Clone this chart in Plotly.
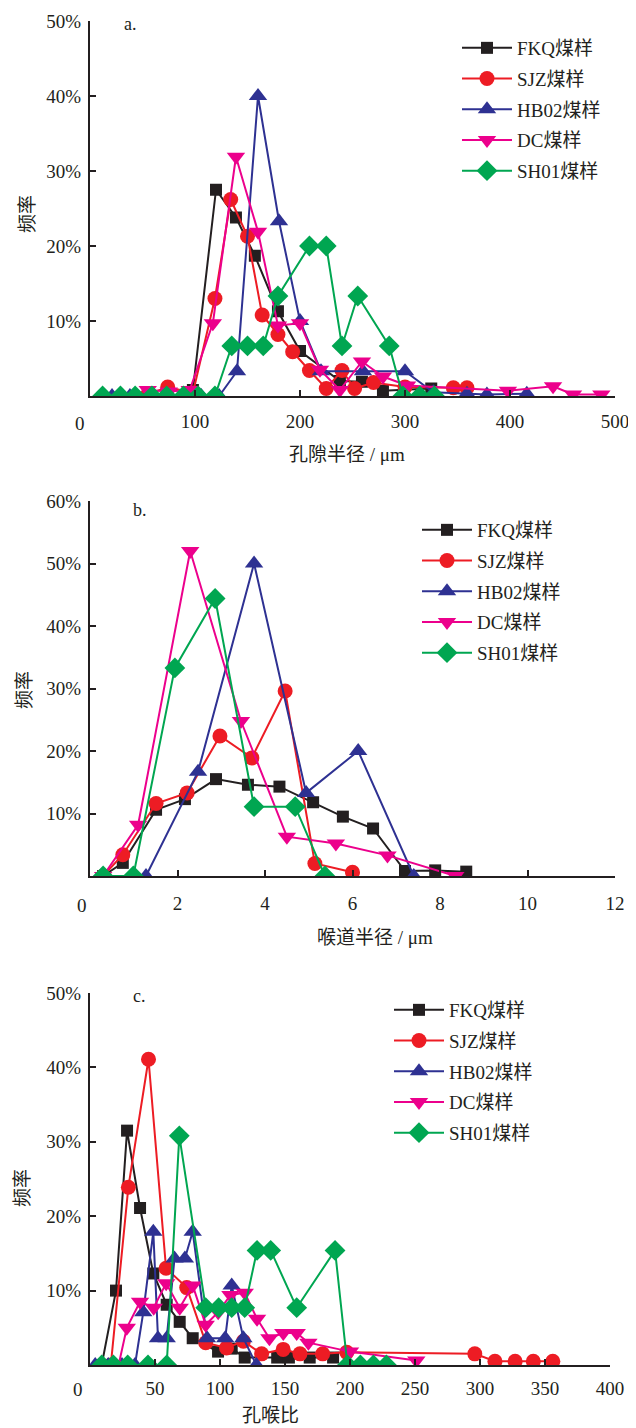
import plotly.graph_objects as go

# ---------------- data ----------------
names = ["FKQ煤样", "SJZ煤样", "HB02煤样", "DC煤样", "SH01煤样"]
colors = ["#231f20", "#ed1c24", "#2e3192", "#ec008c", "#00a651"]
symbols = ["square", "circle", "triangle-up", "triangle-down", "diamond"]
msizes = [12, 15, 16, 16, 16]

# panel a: pore radius (um) vs frequency (%)
FKQ_a_x = [98, 120, 139, 157, 179, 200, 238, 259, 279, 325]
FKQ_a_y = [0.8, 27.5, 23.8, 18.7, 11.3, 6.0, 2.0, 1.9, 0.7, 1.0]
SJZ_a_x = [55, 74, 98, 119, 134, 150, 164, 179, 193, 209, 225, 240, 252, 270, 300, 346, 359]
SJZ_a_y = [0.2, 1.2, 0.4, 13.0, 26.2, 21.3, 10.8, 8.2, 5.9, 3.4, 1.0, 3.4, 1.0, 1.8, 1.2, 1.1, 1.1]
HB02_a_x = [21, 38, 55, 72, 89, 106, 123, 140, 160, 180, 200, 220, 260, 300, 327, 359, 378, 416]
HB02_a_y = [0, 0, 0, 0, 0, 0, 0, 3.3, 40.0, 23.3, 10.0, 3.3, 3.3, 3.3, 0.5, 0.3, 0.2, 0.3]
DC_a_x = [55, 75, 95, 117, 139, 160, 179, 200, 219, 238, 259, 279, 302, 398, 441, 460, 487]
DC_a_y = [0.8, 0.6, 0.8, 9.7, 31.9, 21.9, 9.4, 9.7, 3.5, 0.8, 4.6, 2.6, 1.4, 0.7, 1.3, 0.2, 0.2]
SH01_a_x = [12, 29, 43, 59, 73, 89, 103, 119, 135, 150, 165, 179, 209, 225, 240, 255, 285, 298, 314, 328]
SH01_a_y = [0, 0, 0, 0, 0, 0, 0, 0, 6.67, 6.67, 6.67, 13.33, 20.0, 20.0, 6.67, 13.33, 6.67, 0, 0, 0]

# panel b: throat radius (um) vs frequency (%)
FKQ_b_x = [0.3, 0.75, 1.51, 2.17, 2.88, 3.61, 4.33, 5.10, 5.78, 6.47, 7.2, 7.89, 8.6]
FKQ_b_y = [0, 2.1, 10.6, 12.3, 15.5, 14.6, 14.3, 11.8, 9.5, 7.6, 0.8, 0.9, 0.7]
SJZ_b_x = [0.3, 0.75, 1.51, 2.22, 2.97, 3.70, 4.46, 5.14, 6.0]
SJZ_b_y = [0, 3.4, 11.6, 13.3, 22.4, 18.9, 29.6, 2.0, 0.6]
HB02_b_x = [1.28, 2.47, 3.75, 4.94, 6.13, 7.4]
HB02_b_y = [0, 16.7, 50.0, 13.3, 20.0, 0]
DC_b_x = [0.3, 1.1, 2.29, 3.45, 4.5, 5.62, 6.8, 8.35]
DC_b_y = [0, 8.2, 52.0, 24.8, 6.3, 5.2, 3.3, 0.0]
SH01_b_x = [0.3, 0.99, 1.94, 2.86, 3.75, 4.69, 5.37]
SH01_b_y = [0, 0, 33.3, 44.4, 11.1, 11.1, 0]

# panel c: pore-throat ratio vs frequency (%)
FKQ_c_x = [9, 20, 28.5, 38.5, 48.7, 59, 69, 79, 98.5, 109, 119, 144, 153, 169, 187]
FKQ_c_y = [0, 10.0, 31.5, 21.1, 12.3, 8.1, 5.8, 3.6, 1.8, 2.2, 1.0, 1.0, 1.0, 1.0, 1.0]
SJZ_c_x = [16, 29.5, 45, 58.5, 74.4, 89, 105, 118, 132, 148.6, 161.5, 179, 197.5, 296, 311.5, 327, 341, 356]
SJZ_c_y = [0, 23.9, 41.1, 13.0, 10.4, 3.0, 2.3, 3.2, 1.5, 2.1, 1.5, 1.5, 1.7, 1.5, 0.5, 0.5, 0.5, 0.5]
HB02_c_x = [4, 14, 24.6, 34.6, 41, 48.7, 52.3, 59, 65, 73, 79, 90, 104, 109, 118, 128]
HB02_c_y = [0, 0, 0, 0, 7.1, 17.9, 3.6, 3.6, 14.3, 14.3, 17.9, 3.6, 3.6, 10.7, 3.6, 0]
DC_c_x = [22, 28.3, 38.5, 49, 58.6, 69, 79, 89, 98.6, 108, 119, 128.5, 138, 148.7, 159, 168, 200, 251]
DC_c_y = [0, 5.0, 8.5, 7.7, 11.0, 7.7, 10.7, 5.4, 7.1, 9.4, 9.7, 6.2, 3.6, 4.3, 4.3, 3.0, 1.8, 0.6]
SH01_c_x = [9, 18, 29, 44.6, 59, 68.7, 89, 99, 109, 119, 128.5, 139, 159, 188.5, 198, 208, 218, 228]
SH01_c_y = [0, 0, 0, 0, 0, 30.8, 7.7, 7.7, 7.7, 7.7, 15.4, 15.4, 7.7, 15.4, 0, 0, 0, 0]

panel_labels = ["a.", "b.", "c."]
x_titles = ["孔隙半径 / μm", "喉道半径 / μm", "孔喉比"]
y_title = "频率"

# ---------------- figure geometry ----------------
OFF = 8                      # page body margin of the html page
W, H = 636 - OFF, 1428 - OFF
ML, MR, MT, MB = 90 - OFF, 21, 21 - OFF, 63
PW = W - ML - MR
PH = H - MT - MB

def px2x(px):                 # screen pixel -> paper x
    return (px - OFF - ML) / PW

def py2y(py):                 # screen pixel -> paper y
    return (H - MB - (py - OFF)) / PH

FONT = "Liberation Serif, 'Times New Roman', 'Noto Sans CJK SC', serif"
INK = "#231f20"

fig = go.Figure()

panels = [
    ([FKQ_a_x, SJZ_a_x, HB02_a_x, DC_a_x, SH01_a_x], [FKQ_a_y, SJZ_a_y, HB02_a_y, DC_a_y, SH01_a_y]),
    ([FKQ_b_x, SJZ_b_x, HB02_b_x, DC_b_x, SH01_b_x], [FKQ_b_y, SJZ_b_y, HB02_b_y, DC_b_y, SH01_b_y]),
    ([FKQ_c_x, SJZ_c_x, HB02_c_x, DC_c_x, SH01_c_x], [FKQ_c_y, SJZ_c_y, HB02_c_y, DC_c_y, SH01_c_y]),
]
legend_ids = ["legend", "legend2", "legend3"]
for p, (xs, ys) in enumerate(panels):
    sfx = "" if p == 0 else str(p + 1)
    for i in range(5):
        fig.add_trace(go.Scatter(
            x=xs[i], y=ys[i], mode="lines+markers", name=names[i],
            line=dict(color=colors[i], width=2),
            marker=dict(symbol=symbols[i], size=msizes[i], color=colors[i]),
            xaxis="x" + sfx, yaxis="y" + sfx, legend=legend_ids[p],
            legendgroup=f"p{p}s{i}",
        ))

# screen-pixel geometry of each plot area
plot_px = [
    dict(x0=90, x1=615, y0=21, y1=396),
    dict(x0=90, x1=615, y0=501, y1=876),
    dict(x0=90, x1=610, y0=993, y1=1365),
]
x_ranges = [[0, 500], [0, 12], [0, 400]]
x_ticks = [[100, 200, 300, 400, 500], [2, 4, 6, 8, 10, 12], [50, 100, 150, 200, 250, 300, 350, 400]]
y_ranges = [[0, 50], [0, 60], [0, 50]]
y_ticks = [[10, 20, 30, 40, 50], [10, 20, 30, 40, 50, 60], [10, 20, 30, 40, 50]]
x_standoff = [7, 9, 5]

axis_common = dict(showline=True, linecolor=INK, linewidth=2, ticks="inside", ticklen=6,
                   tickwidth=1.5, tickcolor=INK, showgrid=False, zeroline=False,
                   automargin=False,
                   tickfont=dict(family=FONT, size=19, color=INK))
layout = dict(width=W, height=H, margin=dict(l=ML, r=MR, t=MT, b=MB, autoexpand=False),
              plot_bgcolor="white", paper_bgcolor="white",
              font=dict(family=FONT, size=19, color=INK))
for p in range(3):
    g = plot_px[p]
    sfx = "" if p == 0 else str(p + 1)
    layout["xaxis" + sfx] = dict(axis_common, domain=[px2x(g["x0"]), min(1.0, px2x(g["x1"]))],
                                 range=x_ranges[p], tickvals=x_ticks[p],
                                 ticktext=[str(v) for v in x_ticks[p]],
                                 anchor="y" + sfx, ticklabelstandoff=x_standoff[p])
    layout["yaxis" + sfx] = dict(axis_common, domain=[py2y(g["y1"]), min(1.0, py2y(g["y0"]))],
                                 range=y_ranges[p], tickvals=y_ticks[p],
                                 ticktext=[f"{v}%" for v in y_ticks[p]],
                                 anchor="x" + sfx, ticklabelstandoff=3)

leg_pos = [(457, 29), (417, 511), (389, 991)]
for p in range(3):
    lx, ly = leg_pos[p]
    layout[legend_ids[p]] = dict(x=px2x(lx), y=py2y(ly), xanchor="left", yanchor="top",
                                 bgcolor="rgba(0,0,0,0)", itemwidth=50, tracegroupgap=3,
                                 traceorder="grouped",
                                 font=dict(family=FONT, size=19, color=INK))

fig.update_layout(**layout)

annotations = []
lab_pos = [(130, 24), (140, 510), (139, 996)]
xt_pos = [(347, 455), (375, 937), (270, 1415)]
yt_pos = [(27, 214), (25, 690), (22, 1188)]
zero_pos = [(80, 423), (82, 905), (78, 1389)]
for p in range(3):
    items = [(panel_labels[p], lab_pos[p], 18, 0),
             (x_titles[p], xt_pos[p], 19, 0),
             (y_title, yt_pos[p], 19, -90),
             ("0", zero_pos[p], 19, 0)]
    for text, (ax, ay), fs, ang in items:
        annotations.append(dict(text=text, x=px2x(ax), y=py2y(ay), xref="paper", yref="paper",
                                xanchor="center", yanchor="middle", showarrow=False,
                                textangle=ang, font=dict(family=FONT, size=fs, color=INK)))
fig.update_layout(annotations=annotations)

fig.write_html("out.html")
